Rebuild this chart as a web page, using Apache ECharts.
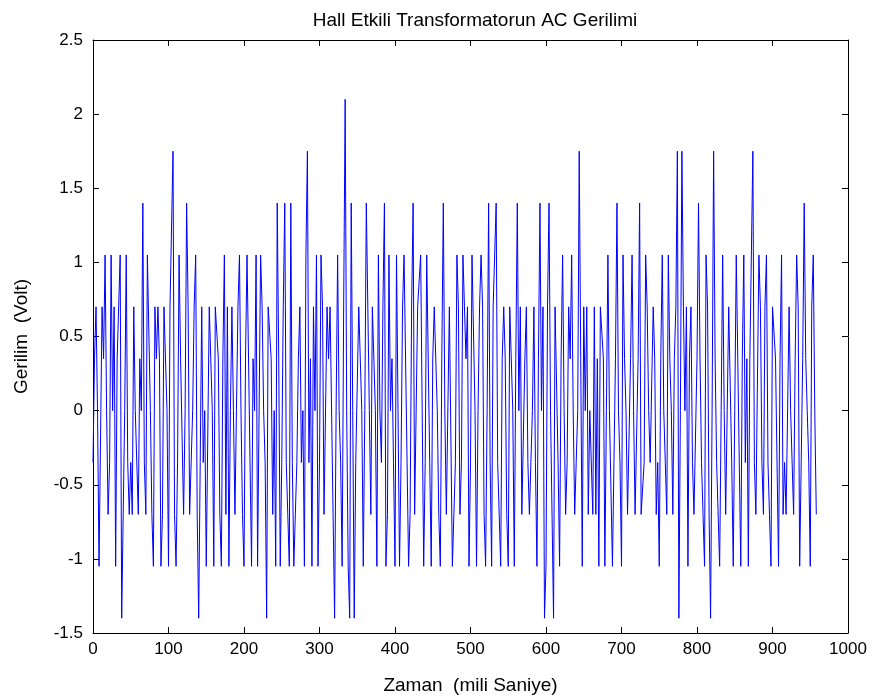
<!DOCTYPE html>
<html>
<head>
<meta charset="utf-8">
<title>Hall Etkili Transformatorun AC Gerilimi</title>
<script src="https://cdn.jsdelivr.net/npm/echarts@6/dist/echarts.min.js"></script>
<style>
  html, body { margin: 0; padding: 0; background: #fff; }
  #chart { width: 874px; height: 700px; }
</style>
</head>
<body>
<div id="chart"></div>
<script>
// örnekleme aralığı (ms) - okunan noktalar 2 ms arayla
var SAMPLE_MS = 2;

// ölçülen gerilim (Volt), 0 - 958 ms
var gerilim0 = [
  -0.35, 0.35, 0.7, 0, -1.05, -1.05, 0.7, 0.35, 1.05, 0, -0.7, -0.35, 1.05, 0, 0.7, -1.05, 0.35, 0.35, 1.05, -1.4,
  -0.7, 0, 1.05, -0.35, -0.7, -0.35, -0.7, 0.7, 0, 0, -0.7, 0.35, 0, 1.4, -0.35, -0.7, 1.05, 1.05, 0, -0.7, -1.05
];
var gerilim1 = [
  0.7, 0.35, 0.7, 0.35, -1.05, -0.7, 0.7, 0.7, 0, -1.05, 0.7, 0.7, 1.75, -0.7, -1.05, -0.35, 1.05, 0.35, 0.35, -0.7,
  0, 1.4, 0.7, -0.7, -0.35, 0, 0.7, 1.05, -0.7, -1.4, -0.35, 0.7, -0.35, 0, -1.05, -1.05, 0.7, 0.35, 0, -1.05, 0.7
];
var gerilim2 = [
  0.7, 0.35, -0.7, -1.05, 0.35, 1.05, -0.7, 0.7, -1.05, 0, 0.7, 0, -0.7, 0, 0.7, 1.05, 0, -0.7, -1.05, 0.35,
  1.05, 1.05, -0.35, -1.05, 0.35, 0, 1.05, -1.05, -1.05, 1.05, 0.7, 0, -0.35, -1.4, 0.7, 0.7, 0.35, -0.7, 0, -1.05, 1.4
];
var gerilim3 = [
  0.35, -1.05, -0.35, 0.7, 1.4, -0.35, -0.7, -1.05, 1.4, -0.35, -1.05, -0.7, -0.35, 0.35, 0.7, -0.35, 0, -1.05, 1.05, 1.75,
  -0.35, 0.35, -1.05, 0.7, 0, 1.05, -1.05, -0.35, 1.05, 0.7, -0.7, -0.7, 0.7, 0.35, 0.7, 0.7, -0.7, -1.4, 0, 1.05, 0
];
var gerilim4 = [
  -0.35, -1.05, 0.7, 2.1, 0, -1.05, -1.4, 1.4, 0, -1.4, -0.35, -0.35, 0.7, 0.35, 0, -1.05, 0, 1.4, 0.7, 0,
  -0.7, 0.7, 0.7, 0, -1.05, 1.05, 0, -0.35, 0.7, 1.4, -1.05, -0.7, 1.05, 0, 0.35, -0.35, -1.05, 1.05, 0, -1.05, -0.35
];
var gerilim5 = [
  0.7, 1.05, 0.35, -0.35, -1.05, -0.7, 0.7, 1.4, -0.7, -0.7, 0.7, 0.7, 1.05, 0, -1.05, -0.35, 1.05, 1.05, -0.35, -1.05,
  0.35, 0.7, 0.7, 0, -0.7, -1.05, 0.35, 1.4, 0, -0.7, -0.7, 0.7, 0.7, -1.05, -0.7, -0.35, 1.05, 0.7, -0.7, -0.35, 1.05
];
var gerilim6 = [
  0.7, 0.35, 0.7, -1.05, -0.35, 1.05, 1.05, 0, -1.05, 0, 0.7, 1.05, 0.7, -0.7, -1.05, 0, 1.4, -0.35, -1.05, 0.7,
  1.05, 1.4, -0.35, -0.35, -1.05, 0.35, 0.7, 0.35, -0.7, -1.05, 0.7, 0.7, 0, -1.05, 0.35, 1.4, 0, 0.7, -0.7, -0.7, 0.35
];
var gerilim7 = [
  0.7, -0.35, -0.7, -0.7, 0, 0.7, -0.35, -1.05, 0.35, 1.4, 0, 0.7, -1.4, -1.05, 0.7, 1.4, 0, 0, -1.4, 0.7,
  0.7, -0.35, -1.05, 0.35, 1.05, 0, -0.7, -0.35, 0.7, 0.35, 1.05, 0, -0.7, -0.35, 0, 1.75, 0.35, -1.05, 0.7, 0, 0.7
];
var gerilim8 = [
  -0.7, 0, 0, -0.7, 0.7, -0.7, 0.35, -1.05, 0.7, 0.7, 0.35, -1.05, 0, 1.05, 0, 0, -1.05, -0.35, 0.35, 1.4,
  0, -0.35, -1.05, 1.05, 0.35, 0, -0.7, -0.7, 0.35, 1.05, 0, -0.7, -0.7, 0.35, 1.4, -0.7, -0.7, -0.35, 1.05, 0.7, 0
];
var gerilim9 = [
  -0.35, -0.35, 0.7, 0.35, -0.7, -0.35, -1.05, 0.35, 1.05, 0, -0.35, -0.7, 1.05, 0.35, 0, -0.7, 0.35, 0.7, 1.75, -1.4,
  0, 1.75, 0.7, 0, 0.7, -1.05, 0.35, 0.7, -0.35, -0.7, -0.7, 0.35, 1.4, 0.35, -0.35, -0.7, -1.05, 1.05, 0.7, -0.7, -1.4
];
var gerilim10 = [
  0, 1.75, 0.35, -0.35, -0.35, -1.05, 0, 1.05, 0, -0.7, 0, 0.7, 0.7, -0.35, -1.05, 0, 1.05, 0.35, -0.35, -1.05,
  0.35, 1.05, -0.35, 0.35, -1.05, 0.35, 0.35, 1.75, -0.35, -0.7, -0.7, 1.05, 0.7, -0.35, -0.7, 0.7, 1.05, -0.35, -0.7, -1.05, 0.7
];
var gerilim11 = [
  0.7, 0.35, 0.35, -1.05, 0.35, 1.05, -0.7, -0.35, -0.7, -0.7, 0.7, 0, 0, -0.7, 0.35, 1.05, 0.7, -1.05, -0.35, 0.35,
  1.4, 0.35, 0, -0.35, -1.05, 0.7, 1.05, 0, -0.7
];

var gerilim = [].concat(gerilim0, gerilim1, gerilim2, gerilim3, gerilim4, gerilim5,
  gerilim6, gerilim7, gerilim8, gerilim9, gerilim10, gerilim11);

// eksen ölçekleri
var xMin = 0, xMax = 1000, xStep = 100;
var yMin = -1.5, yMax = 2.5, yStep = 0.5;

var FONT = '"Liberation Sans", Arial, Helvetica, sans-serif';

var seri = [];
gerilim.forEach(function (v, i) {
  seri.push([i * SAMPLE_MS, v]);
});

var myChart = echarts.init(document.getElementById('chart'), null, { renderer: 'canvas' });

var boxAxisLine = { show: true, onZero: false, lineStyle: { color: '#000', width: 1 } };
var tick = { show: true, inside: true, length: 6, lineStyle: { color: '#000', width: 1 } };

var option = {
  backgroundColor: '#fff',
  animation: false,
  title: {
    text: 'Hall Etkili Transformatorun AC Gerilimi',
    left: 470,
    top: 6,
    textAlign: 'center',
    textStyle: { fontFamily: FONT, fontSize: 19, fontWeight: 'normal', color: '#000' }
  },
  grid: { left: 93, top: 40, width: 755, height: 593, containLabel: false },
  xAxis: [
    {
      type: 'value', min: xMin, max: xMax, interval: xStep,
      name: 'Zaman  (mili Saniye)', nameLocation: 'middle', nameGap: 43,
      nameTextStyle: { fontFamily: FONT, fontSize: 19, color: '#000' },
      axisLine: boxAxisLine, axisTick: tick,
      axisLabel: {
        fontFamily: FONT, fontSize: 17, color: '#000', margin: 8,
        formatter: function (v) { return String(v); }
      },
      splitLine: { show: false }
    },
    {
      type: 'value', min: xMin, max: xMax, interval: xStep, position: 'top',
      axisLine: boxAxisLine, axisTick: tick, axisLabel: { show: false }, splitLine: { show: false }
    }
  ],
  yAxis: [
    {
      type: 'value', min: yMin, max: yMax, interval: yStep,
      name: 'Gerilim  (Volt)', nameLocation: 'middle', nameGap: 62, nameRotate: 90,
      nameTextStyle: { fontFamily: FONT, fontSize: 19, color: '#000' },
      axisLine: boxAxisLine, axisTick: tick,
      axisLabel: { fontFamily: FONT, fontSize: 17, color: '#000', margin: 10 },
      splitLine: { show: false }
    },
    {
      type: 'value', min: yMin, max: yMax, interval: yStep, position: 'right',
      axisLine: boxAxisLine, axisTick: tick, axisLabel: { show: false }, splitLine: { show: false }
    }
  ],
  series: [
    {
      type: 'line',
      data: seri,
      xAxisIndex: 0,
      yAxisIndex: 0,
      showSymbol: false,
      symbol: 'none',
      sampling: null,
      lineStyle: { color: '#0000ff', width: 1 },
      clip: true
    }
  ]
};

myChart.setOption(option, true);
</script>
</body>
</html>
